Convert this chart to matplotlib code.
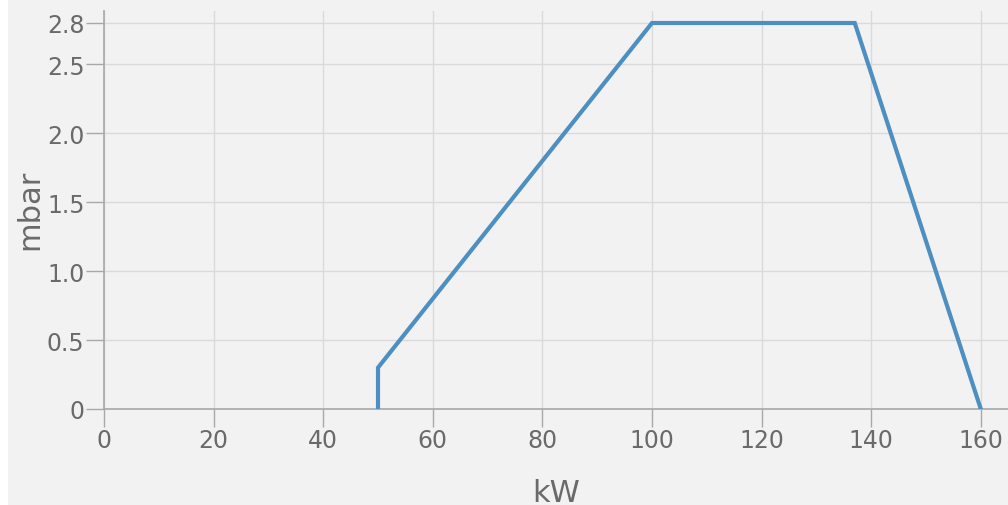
import matplotlib
matplotlib.use("Agg")
import matplotlib.pyplot as plt
from matplotlib.patches import Rectangle

# curve points
power_kw = [50, 50, 100, 137, 160]
pressure_mbar = [0, 0.3, 2.8, 2.8, 0]

x_ticks = [0, 20, 40, 60, 80, 100, 120, 140, 160]
y_ticks = [0, 0.5, 1.0, 1.5, 2.0, 2.5, 2.8]
y_labels = ["0", "0.5", "1.0", "1.5", "2.0", "2.5", "2.8"]

fig = plt.figure(figsize=(10.08, 5.06), dpi=100, facecolor="white")
fig.patches.append(Rectangle((8 / 1008, 0), 1, 1, transform=fig.transFigure,
                             facecolor="#f2f2f2", edgecolor="none", zorder=-1))

ax = fig.add_axes([104 / 1008, 1 - 410 / 506, 1 - 104 / 1008, (410 - 12) / 506])
ax.set_facecolor("none")

ax.plot(power_kw, pressure_mbar, color="#4e8fc1", linewidth=3, solid_joinstyle="miter", zorder=3)

ax.set_xlim(0, (1008 - 104) / 5.48)
ax.set_ylim(0, 2.8 + 12 / 137.9)
ax.set_xticks(x_ticks)
ax.set_yticks(y_ticks)
ax.set_yticklabels(y_labels)

ax.grid(True, color="#dadada", linewidth=1)
for s in ["top", "right"]:
    ax.spines[s].set_visible(False)
for s in ["left", "bottom"]:
    ax.spines[s].set_color("#a8a8a8")
    ax.spines[s].set_linewidth(1.2)

ax.tick_params(axis="both", length=13, width=1, color="#a8a8a8", labelsize=17,
               labelcolor="#6a6a6a", pad=1)

ax.set_xlabel("kW", fontsize=22, color="#6a6a6a")
ax.xaxis.set_label_coords(0.5 + (556 - 556) / 904, -(502 - 410) / 398)
ax.xaxis.label.set_va("baseline")
ax.set_ylabel("mbar", fontsize=22, color="#6a6a6a")
ax.yaxis.set_label_coords((44 - 104) / 904, (410 - 209.5) / 398)

fig.savefig("out.png", dpi=100)
